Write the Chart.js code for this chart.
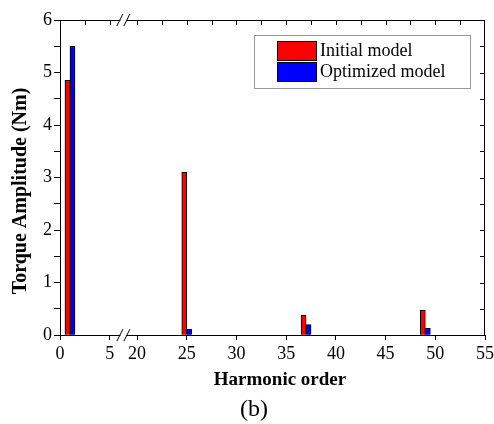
<!DOCTYPE html>
<html>
<head>
<meta charset="utf-8">
<script src="https://cdn.jsdelivr.net/npm/chart.js@4"></script>
<style>
  html, body { margin: 0; padding: 0; background: #fff; }
  canvas { display: block; }
</style>
</head>
<body>
<canvas id="harmonic-chart" width="494" height="424"></canvas>
<script>
// ───────────────────────── DATA ─────────────────────────
const harmonicOrders = [1, 25, 37, 49];
const initialModel   = [4.85, 3.1, 0.38, 0.48];
const optimizedModel = [5.5, 0.11, 0.2, 0.13];
const seriesLabels   = ["Initial model", "Optimized model"];
const xTickLabels    = [0, 5, 20, 25, 30, 35, 40, 45, 50, 55];
const xTopTicks      = [2.5, 5, 20, 22.5, 25, 27.5, 30, 32.5, 35, 37.5, 40, 42.5, 45, 47.5, 50, 52.5];
const yTickLabels    = [0, 1, 2, 3, 4, 5, 6];
const xTitle         = "Harmonic order";
const yTitle         = "Torque Amplitude (Nm)";

// ── broken x axis: 5 → 20 squeezed into a small gap ──
const breakFrom = 5, breakTo = 20, breakGap = 2.75;
const toAxis = (h) => h <= breakFrom ? h : h - (breakTo - breakFrom) + breakGap;

const serif = "'Liberation Serif', 'Times New Roman', serif";
Chart.defaults.color = "#000";
Chart.defaults.font.family = serif;

// ───────────────────────── FRAME / BREAK / LEGEND PLUGIN ─────────────────────────
const framePlugin = {
    id: "frame",
    afterDraw(chart) {
        const { ctx, chartArea: a, scales: { x, y } } = chart;
        ctx.save();
        ctx.strokeStyle = "#000";
        ctx.lineWidth = 1;

        // top + right border
        ctx.beginPath();
        ctx.moveTo(a.left, a.top + 0.5);
        ctx.lineTo(a.right, a.top + 0.5);
        ctx.moveTo(a.right - 0.5, a.top);
        ctx.lineTo(a.right - 0.5, a.bottom);

        // inward ticks on top and right
        xTopTicks.forEach(v => {
            const px = Math.round(x.getPixelForValue(toAxis(v))) + 0.5;
            ctx.moveTo(px, a.top);
            ctx.lineTo(px, a.top + 5);
        });
        for (let v = 0.5; v < 6; v += 0.5) {
            const py = Math.round(y.getPixelForValue(v)) + 0.5;
            ctx.moveTo(a.right, py);
            ctx.lineTo(a.right - 5, py);
        }
        ctx.stroke();

        // axis break marks "//"
        const bx = (x.getPixelForValue(toAxis(breakFrom)) + x.getPixelForValue(toAxis(breakTo))) / 2;
        [a.top, a.bottom].forEach(ly => {
            ctx.fillStyle = "#fff";
            ctx.fillRect(bx - 3, ly - 2, 6, 4);
            ctx.beginPath();
            ctx.moveTo(bx - 6.5, ly + 6);
            ctx.lineTo(bx - 0.5, ly - 6);
            ctx.moveTo(bx + 0.5, ly + 6);
            ctx.lineTo(bx + 6.5, ly - 6);
            ctx.stroke();
        });

        // axis titles (both sit off-centre in the original)
        ctx.fillStyle = "#000";
        ctx.font = "bold 19px " + serif;
        ctx.textAlign = "center";
        ctx.textBaseline = "middle";
        ctx.fillText(xTitle, 280, 380);

        ctx.save();
        ctx.translate(21, 191);
        ctx.rotate(-Math.PI / 2);
        ctx.font = "bold 20px " + serif;
        ctx.fillText(yTitle, 0, 0);
        ctx.restore();

        // legend box
        const lx = 254, ly = 35, lw = 216, lh = 53;
        ctx.strokeStyle = "#999";
        ctx.strokeRect(lx + 0.5, ly + 0.5, lw, lh);
        ctx.font = "18px " + serif;
        ctx.textBaseline = "middle";
        ctx.textAlign = "left";
        chart.data.datasets.forEach((ds, i) => {
            const sy = ly + 6 + i * 21;
            ctx.fillStyle = ds.backgroundColor;
            ctx.fillRect(lx + 23, sy, 40, 20);
            ctx.strokeStyle = "#000";
            ctx.strokeRect(lx + 23.5, sy + 0.5, 39, 19);
            ctx.fillStyle = "#000";
            ctx.fillText(ds.label, lx + 66, sy + 10);
        });
        ctx.restore();
    }
};

// ───────────────────────── CHART ─────────────────────────
const ctx = document.getElementById("harmonic-chart").getContext("2d");
new Chart(ctx, {
    type: "bar",
    data: {
        datasets: [
            {
                label: seriesLabels[0],
                data: harmonicOrders.map((h, i) => ({ x: toAxis(h), y: initialModel[i] })),
                backgroundColor: "#ff0000",
                borderColor: "#000",
                borderWidth: 1,
                barThickness: 5
            },
            {
                label: seriesLabels[1],
                data: harmonicOrders.map((h, i) => ({ x: toAxis(h), y: optimizedModel[i] })),
                backgroundColor: "#0000ff",
                borderColor: "#000",
                borderWidth: 1,
                barThickness: 5
            }
        ]
    },
    options: {
        responsive: false,
        animation: false,
        layout: { padding: { left: 23, right: 9, top: 20, bottom: 0 } },
        scales: {
            x: {
                type: "linear",
                offset: false,
                min: 0,
                max: toAxis(55),
                afterBuildTicks: (scale) => {
                    scale.ticks = xTickLabels.map(v => ({ value: toAxis(v) }));
                },
                afterFit: (scale) => {
                    scale.height = 56;
                    scale.paddingLeft = 0;
                    scale.paddingRight = 0;
                },
                ticks: {
                    autoSkip: false,
                    maxRotation: 0,
                    padding: 3,
                    font: { size: 18 },
                    callback: (value, index) => xTickLabels[index]
                },
                grid: { offset: false, drawOnChartArea: false, tickLength: 5, tickColor: "#000" },
                border: { color: "#000", width: 1 }
            },
            y: {
                min: 0,
                max: 6,
                afterFit: (scale) => { scale.width = 37; },
                ticks: {
                    stepSize: 0.5,
                    padding: 2,
                    font: { size: 18 },
                    callback: (v) => yTickLabels.includes(v) ? v : ""
                },
                grid: { drawOnChartArea: false, tickLength: 6, tickColor: "#000" },
                border: { color: "#000", width: 1 }
            }
        },
        plugins: {
            legend: { display: false },
            tooltip: { enabled: false },
            title: {
                display: true,
                position: "bottom",
                text: "(b)",
                font: { size: 24, weight: "normal" },
                padding: { top: 4, bottom: 0 }
            }
        }
    },
    plugins: [framePlugin]
});
</script>
</body>
</html>
